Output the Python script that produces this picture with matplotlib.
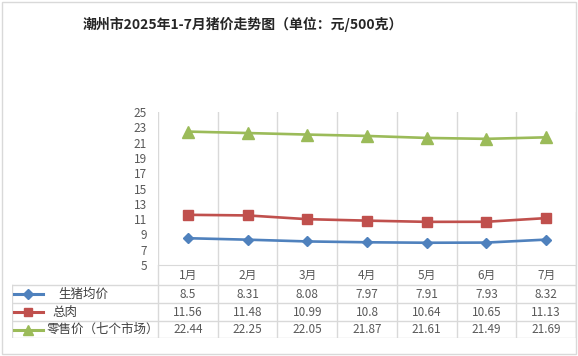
import matplotlib.pyplot as plt
import numpy as np
from matplotlib.patches import Rectangle

plt.rcParams["font.family"] = ["Noto Sans CJK SC", "DejaVu Sans"]

months = ["1月", "2月", "3月", "4月", "5月", "6月", "7月"]
live_pig = [8.5, 8.31, 8.08, 7.97, 7.91, 7.93, 8.32]
pork = [11.56, 11.48, 10.99, 10.8, 10.64, 10.65, 11.13]
retail = [22.44, 22.25, 22.05, 21.87, 21.61, 21.49, 21.69]
series_names = ["生猪均价", "总肉", "零售价（七个市场）"]
yticks = list(range(5, 26, 2))

W, H = 578, 356
GRID = "#d9d9d9"
TXT = "#595959"
colors = ["#4f81bd", "#c0504d", "#9bbb59"]
markers = ["D", "s", "^"]
msizes = [5.5, 6.5, 8]


def px_axes(fig, x0, y0, x1, y1):
    return fig.add_axes([x0 / W, 1 - y1 / H, (x1 - x0) / W, (y1 - y0) / H])


fig = plt.figure(figsize=(W / 100, H / 100), dpi=100)
fig.patches.append(Rectangle((1.5 / W, 2.5 / H), (W - 3.5) / W, (H - 4.5) / H,
                             transform=fig.transFigure, fill=False,
                             edgecolor=GRID, linewidth=1))

fig.text(243 / W, 1 - 24 / H, "潮州市2025年1-7月猪价走势图（单位：元/500克）",
         ha="center", va="center", fontsize=10, fontweight="bold",
         color="#262626")

# chart area
left, right, top, bottom = 158, 576, 112, 265
ax = px_axes(fig, left, top, right, bottom)
x = np.arange(len(months))
for vals, c, m, ms in zip([live_pig, pork, retail], colors, markers, msizes):
    ax.plot(x, vals, color=c, linewidth=1.9, marker=m, markersize=ms,
            markeredgecolor=c, markerfacecolor=c)
ax.set_xlim(-0.5, len(months) - 0.5)
ax.set_ylim(5, 25)
ax.set_yticks(yticks)
ax.set_xticks(np.arange(-0.5, len(months)), minor=False)
ax.tick_params(axis="x", length=0, labelbottom=False)
ax.tick_params(axis="y", length=0, labelsize=8.5, labelcolor=TXT, pad=8)
ax.grid(axis="x", color=GRID, linewidth=1)
for s in ["top", "right", "left"]:
    ax.spines[s].set_visible(False)
ax.spines["bottom"].set_color(GRID)
ax.patch.set_alpha(0)

# data table
cat_w = (right - left) / len(months)
tl = 12
tax = px_axes(fig, tl, bottom, right, 338)
tax.set_xlim(-0.5 - (left - tl) / cat_w, len(months) - 0.5)
tax.set_ylim(338, bottom)
tax.axis("off")


def px2x(px):
    return -0.5 - (left - px) / cat_w


row_lines = [285, 303, 321, 338]
for b in np.arange(-0.5, len(months)):
    tax.plot([b, b], [bottom, 338], color=GRID, linewidth=1)
tax.plot([px2x(tl), px2x(tl)], [285, 338], color=GRID, linewidth=1)
tax.plot([px2x(right), px2x(right)], [bottom, 338], color=GRID, linewidth=1)
for yl in row_lines:
    tax.plot([px2x(tl), len(months) - 0.5], [yl, yl], color=GRID, linewidth=1)

for i, mth in enumerate(months):
    tax.text(i, 275, mth, ha="center", va="center", fontsize=8.5, color=TXT)

row_centers = [294, 312, 329.5]
label_x = [58, 52, 47]
for vals, name, c, m, ms, yc, lx in zip([live_pig, pork, retail], series_names,
                                        colors, markers, msizes, row_centers, label_x):
    tax.plot([px2x(14), px2x(43)], [yc, yc], color=c, linewidth=2.2)
    tax.plot([px2x(28.5)], [yc], marker=m, markersize=ms * 0.9, color=c)
    tax.text(px2x(lx), yc, name, ha="left", va="center", fontsize=9, color="#404040")
    for i, v in enumerate(vals):
        tax.text(i, yc, f"{v:g}", ha="center", va="center", fontsize=8.5, color=TXT)

fig.savefig("out.png", dpi=100)
